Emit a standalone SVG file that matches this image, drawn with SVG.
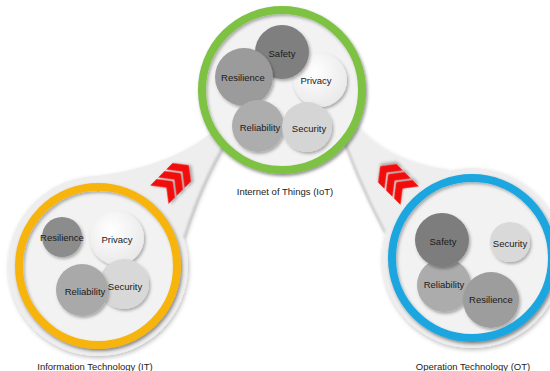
<svg xmlns="http://www.w3.org/2000/svg" width="550" height="371" viewBox="0 0 550 371">
<defs>
<filter id="sh" x="-30%" y="-30%" width="160%" height="160%"><feDropShadow dx="1.5" dy="2" stdDeviation="1.5" flood-color="#000" flood-opacity="0.3"/></filter>
<filter id="sh2" x="-20%" y="-20%" width="140%" height="140%"><feDropShadow dx="1" dy="2" stdDeviation="2" flood-color="#000" flood-opacity="0.25"/></filter>
<filter id="blur" x="-20%" y="-20%" width="140%" height="140%"><feGaussianBlur stdDeviation="0.8"/></filter>
<radialGradient id="gPriv" cx="40%" cy="35%" r="70%"><stop offset="0" stop-color="#ffffff"/><stop offset="1" stop-color="#e8e8e8"/></radialGradient>
<polygon id="chev" points="-8,-13 1,-13 11,0 1,13 -8,13 2,0"/>
</defs>
<style>
.lbl{font-family:"Liberation Sans",Arial,sans-serif;font-size:9.5px;fill:#222;text-anchor:middle}
.in{font-family:"Liberation Sans",Arial,sans-serif;font-size:9.5px;fill:#1a1a1a;text-anchor:middle;dominant-baseline:central}
.bg{fill:#eeeeee}
.edge{fill:none;stroke:#b8b8b8;stroke-width:1.4}
.disk{fill:#f2f2f2;filter:url(#sh2)}
.ring{fill:none;stroke-width:8;filter:url(#sh)}
.c{filter:url(#sh)}
.chev{fill:#f20f0f;filter:url(#sh)}
</style>

<g id="connectors">
  <g filter="url(#sh2)">
    <circle class="bg" cx="98" cy="266" r="90"/>
    <circle class="bg" cx="472" cy="258" r="90"/>
    <path class="bg" d="M90,177 Q190,165 232,112 L240,120 Q205,170 184,238 Z"/>
    <path class="bg" d="M334,112 Q355,175 385,232 L450,170 Q375,160 343,108 Z"/>
  </g>
  <path class="edge" filter="url(#blur)" d="M240,120 Q205,170 184,238"/>
  <path class="edge" filter="url(#blur)" d="M334,112 Q355,175 385,232"/>
  <g id="arrow-it-iot">
    <use href="#chev" class="chev" transform="translate(165,189) rotate(-45)"/>
    <use href="#chev" class="chev" transform="translate(173,181) rotate(-45)"/>
    <use href="#chev" class="chev" transform="translate(181,173) rotate(-45)"/>
  </g>
  <g id="arrow-ot-iot">
    <use href="#chev" class="chev" transform="translate(404,190) rotate(-135)"/>
    <use href="#chev" class="chev" transform="translate(396,182) rotate(-135)"/>
    <use href="#chev" class="chev" transform="translate(388,174) rotate(-135)"/>
  </g>
</g>

<g id="iot">
  <circle class="disk" cx="282" cy="90" r="83"/>
  <circle class="c" cx="320" cy="80" r="27" fill="url(#gPriv)"/>
  <circle class="c" cx="282" cy="52" r="27" fill="#7f7f7f"/>
  <circle class="c" cx="244" cy="77" r="29" fill="#9b9b9b"/>
  <circle class="c" cx="258" cy="126" r="26" fill="#adadad"/>
  <circle class="c" cx="307" cy="127" r="25" fill="#d5d5d5"/>
  <text class="in" x="282" y="53">Safety</text>
  <text class="in" x="243" y="77">Resilience</text>
  <text class="in" x="316" y="80">Privacy</text>
  <text class="in" x="260" y="127">Reliability</text>
  <text class="in" x="309" y="128">Security</text>
  <circle class="ring" cx="282" cy="90" r="80" stroke="#7dc242"/>
  <text class="lbl" x="285" y="195">Internet of Things (IoT)</text>
</g>

<g id="it">
  <circle class="disk" cx="98" cy="266" r="82"/>
  <circle class="c" cx="62" cy="237" r="20" fill="#8c8c8c"/>
  <circle class="c" cx="117" cy="238" r="27" fill="url(#gPriv)"/>
  <circle class="c" cx="124" cy="284" r="25" fill="#d8d8d8"/>
  <circle class="c" cx="82" cy="290" r="26" fill="#a9a9a9"/>
  <text class="in" x="62" y="237">Resilience</text>
  <text class="in" x="117" y="239">Privacy</text>
  <text class="in" x="125" y="286">Security</text>
  <text class="in" x="85" y="291">Reliability</text>
  <circle class="ring" cx="98" cy="266" r="79" stroke="#f6b40e"/>
  <text class="lbl" x="95" y="370">Information Technology (IT)</text>
</g>

<g id="ot">
  <circle class="disk" cx="472" cy="258" r="83"/>
  <circle class="c" cx="444" cy="285" r="27" fill="#acacac"/>
  <circle class="c" cx="442" cy="240" r="27" fill="#7d7d7d"/>
  <circle class="c" cx="491" cy="300" r="28" fill="#9d9d9d"/>
  <circle class="c" cx="510" cy="242" r="20" fill="#d9d9d9"/>
  <text class="in" x="443" y="241">Safety</text>
  <text class="in" x="510" y="243">Security</text>
  <text class="in" x="444" y="284">Reliability</text>
  <text class="in" x="491" y="299">Resilience</text>
  <circle class="ring" cx="472" cy="258" r="80" stroke="#1ba6e0"/>
  <text class="lbl" x="473" y="370">Operation Technology (OT)</text>
</g>
</svg>
